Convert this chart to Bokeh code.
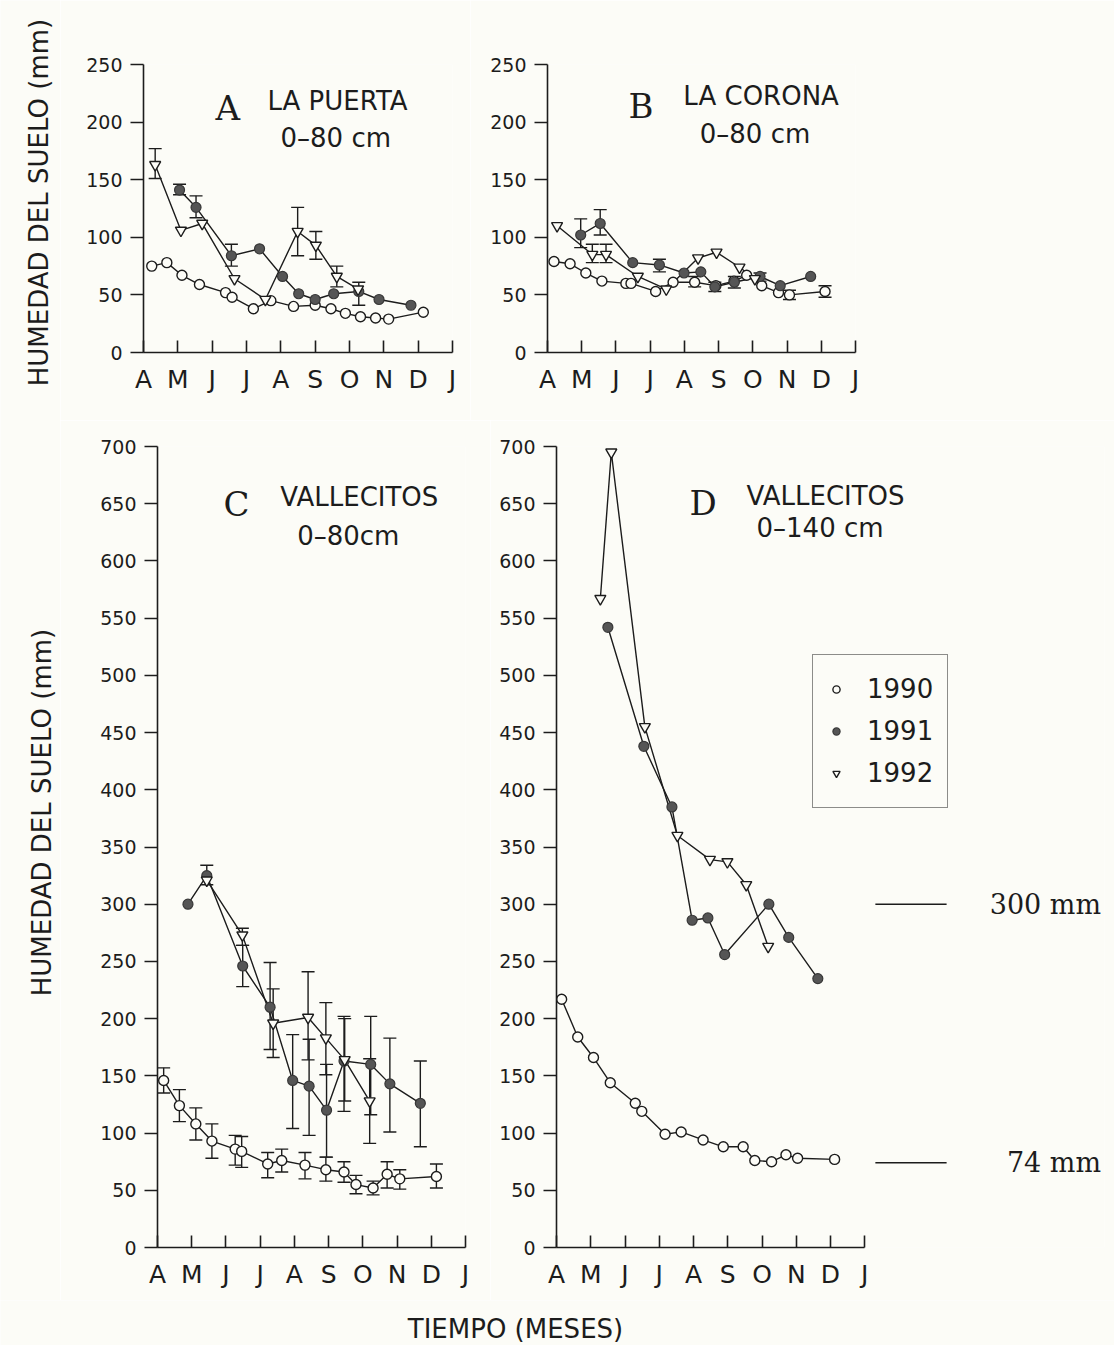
import math
from bokeh.plotting import figure
from bokeh.models import (Range1d, FixedTicker, Whisker, TeeHead, ColumnDataSource,
                          Legend, LegendItem, Label)
from bokeh.layouts import column, row
from bokeh.embed import file_html
from bokeh.resources import INLINE

# ---------------- data ----------------
MONTHS = ["A", "M", "J", "J", "A", "S", "O", "N", "D", "J"]
YEARS = ["1990", "1991", "1992"]

# A  La Puerta 0-80 cm  (x = months after 1 April)
A_x_1990 = [0.24, 0.68, 1.12, 1.63, 2.39, 2.58, 3.20, 3.71, 4.37, 5.00, 5.46, 5.88, 6.32, 6.76, 7.14, 8.15]
A_y_1990 = [75, 78, 67, 59, 52, 48, 38, 45, 40, 41, 38, 34, 31, 30, 29, 35]
A_x_1991 = [1.05, 1.53, 2.56, 3.38, 4.05, 4.52, 5.00, 5.54, 6.27, 6.86, 7.79]
A_y_1991 = [141, 126, 84, 90, 66, 51, 46, 51, 53, 46, 41]
A_x_1992 = [0.34, 1.09, 1.71, 2.65, 3.55, 4.49, 5.02, 5.63, 6.25]
A_y_1992 = [163, 106, 112, 64, 46, 105, 93, 66, 55]
A_err_x_1991 = [1.05, 1.53, 2.56, 6.27]
A_err_lo_1991 = [137, 117, 75, 41]
A_err_hi_1991 = [146, 136, 94, 61]
A_err_x_1992 = [0.34, 4.49, 5.02, 5.63]
A_err_lo_1992 = [151, 84, 81, 57]
A_err_hi_1992 = [177, 126, 105, 75]

# B  La Corona 0-80 cm
B_x_1990 = [0.19, 0.66, 1.12, 1.59, 2.29, 2.44, 3.16, 3.67, 4.30, 4.92, 5.45, 5.82, 6.26, 6.75, 7.07, 8.11]
B_y_1990 = [79, 77, 69, 62, 60, 60, 53, 61, 61, 58, 62, 67, 58, 52, 50, 53]
B_x_1991 = [0.97, 1.54, 2.49, 3.27, 3.99, 4.48, 4.89, 5.46, 6.21, 6.80, 7.69]
B_y_1991 = [102, 112, 78, 76, 69, 70, 57, 61, 66, 58, 66]
B_x_1992 = [0.28, 1.31, 1.71, 2.64, 3.47, 4.40, 4.94, 5.61, 6.06]
B_y_1992 = [110, 85, 85, 66, 55, 82, 87, 74, 64]
B_err_x_1990 = [4.30, 7.07, 8.11]
B_err_lo_1990 = [57, 46, 48]
B_err_hi_1990 = [66, 54, 58]
B_err_x_1991 = [0.97, 1.54, 3.27, 4.89, 5.46, 6.21]
B_err_lo_1991 = [91, 102, 70, 53, 56, 62]
B_err_hi_1991 = [116, 124, 81, 61, 66, 69]
B_err_x_1992 = [1.31, 1.71]
B_err_lo_1992 = [78, 78]
B_err_hi_1992 = [94, 94]

# C  Vallecitos 0-80 cm
C_x_1990 = [0.18, 0.64, 1.12, 1.59, 2.27, 2.46, 3.22, 3.63, 4.31, 4.92, 5.45, 5.80, 6.30, 6.71, 7.08, 8.15]
C_y_1990 = [146, 124, 108, 93, 86, 84, 73, 76, 72, 68, 66, 55, 52, 64, 60, 62]
C_lo_1990 = [135, 110, 94, 78, 72, 70, 61, 66, 60, 58, 57, 47, 46, 52, 51, 52]
C_hi_1990 = [157, 138, 122, 108, 98, 97, 83, 86, 83, 79, 75, 63, 58, 75, 68, 73]
C_x_1991 = [0.89, 1.44, 2.49, 3.29, 3.95, 4.43, 4.94, 5.45, 6.23, 6.79, 7.68]
C_y_1991 = [300, 325, 246, 210, 146, 141, 120, 163, 160, 143, 126]
C_err_x_1991 = [1.44, 2.49, 3.29, 3.95, 4.43, 4.94, 5.45, 6.23, 6.79, 7.68]
C_err_lo_1991 = [317, 228, 173, 104, 98, 79, 119, 116, 101, 88]
C_err_hi_1991 = [334, 264, 249, 186, 182, 160, 202, 202, 183, 163]
C_x_1992 = [1.44, 2.48, 3.38, 4.40, 4.92, 5.47, 6.20]
C_y_1992 = [321, 273, 196, 201, 183, 164, 128]
C_err_x_1992 = [2.48, 3.38, 4.40, 4.92, 5.47, 6.20]
C_err_lo_1992 = [264, 166, 164, 151, 128, 91]
C_err_hi_1992 = [279, 226, 241, 214, 200, 165]

# D  Vallecitos 0-140 cm
D_x_1990 = [0.15, 0.62, 1.08, 1.57, 2.30, 2.49, 3.17, 3.64, 4.28, 4.87, 5.45, 5.79, 6.28, 6.70, 7.04, 8.12]
D_y_1990 = [217, 184, 166, 144, 126, 119, 99, 101, 94, 88, 88, 76, 75, 81, 78, 77]
D_x_1991 = [1.50, 2.55, 3.37, 3.96, 4.42, 4.91, 6.20, 6.78, 7.63]
D_y_1991 = [542, 438, 385, 286, 288, 256, 300, 271, 235]
D_x_1992 = [1.28, 1.60, 2.58, 3.53, 4.48, 4.99, 5.54, 6.18]
D_y_1992 = [567, 695, 455, 360, 339, 337, 317, 263]
D_ref_levels = [300, 74]
D_ref_labels = ["300 mm", "74 mm"]

Y_LABEL = "HUMEDAD DEL SUELO (mm)"
X_LABEL = "TIEMPO (MESES)"

# ---------------- style ----------------
BG = "#fcfcf7"
INK = "#1c1c1c"
DARK = "#555555"
SANS = "DejaVu Sans"
SERIF = "DejaVu Serif"


def make_fig(width, height, left, right, top, bottom, ymax, xmax=9.0):
    p = figure(width=width, height=height, x_range=Range1d(0, xmax), y_range=Range1d(0, ymax),
               output_backend="svg", toolbar_location=None,
               min_border_left=left, min_border_right=right,
               min_border_top=top, min_border_bottom=bottom,
               background_fill_color=BG, border_fill_color=BG, outline_line_color=None)
    p.grid.visible = False
    xa = p.xaxis[0]
    xa.ticker = FixedTicker(ticks=list(range(10)))
    xa.major_label_overrides = {i: m for i, m in enumerate(MONTHS)}
    xa.major_tick_in = 12
    xa.major_tick_out = 0
    xa.minor_tick_line_color = None
    xa.major_label_text_font = SANS
    xa.major_label_text_font_size = "25px"
    xa.major_label_text_color = INK
    xa.major_label_standoff = 12
    xa.axis_line_width = 1.6
    xa.axis_line_color = INK
    xa.major_tick_line_width = 1.6
    xa.major_tick_line_color = INK
    xa.bounds = (0, 9)
    ya = p.yaxis[0]
    ya.ticker = FixedTicker(ticks=list(range(0, ymax + 1, 50)))
    ya.major_tick_in = 0
    ya.major_tick_out = 13
    ya.minor_tick_line_color = None
    ya.major_label_text_font = SANS
    ya.major_label_text_font_size = "19px"
    ya.major_label_text_color = INK
    ya.major_label_standoff = 8
    ya.axis_line_width = 1.6
    ya.axis_line_color = INK
    ya.major_tick_line_width = 1.6
    ya.major_tick_line_color = INK
    return p


def blank_fig(width, height):
    p = figure(width=width, height=height, x_range=Range1d(0, width), y_range=Range1d(0, height),
               output_backend="svg", toolbar_location=None, x_axis_type=None, y_axis_type=None,
               min_border_left=0, min_border_right=0, min_border_top=0, min_border_bottom=0,
               background_fill_color=BG, border_fill_color=BG, outline_line_color=None)
    p.grid.visible = False
    return p


def add_series(p, xs, ys):
    p.line(xs, ys, line_color=INK, line_width=1.4)


def add_markers(p, xs, ys, kind):
    if kind == "1990":
        return p.scatter(xs, ys, marker="circle", size=10, fill_color=BG, line_color=INK, line_width=1.4)
    if kind == "1991":
        return p.scatter(xs, ys, marker="circle", size=10, fill_color=DARK, line_color="#383838", line_width=1.2)
    return p.scatter(xs, ys, marker="inverted_triangle", size=11, fill_color=BG, line_color=INK, line_width=1.4)


def add_err(p, xs, lo, hi):
    src = ColumnDataSource(dict(x=xs, lo=lo, hi=hi))
    w = Whisker(source=src, base="x", lower="lo", upper="hi", dimension="height",
                line_color=INK, line_width=1.4,
                lower_head=TeeHead(size=13, line_color=INK, line_width=1.4),
                upper_head=TeeHead(size=13, line_color=INK, line_width=1.4))
    p.add_layout(w)


def add_text(p, x, y, text, font, size, align="left", angle=0.0, baseline="alphabetic"):
    p.add_layout(Label(x=x, y=y, text=text, text_font=font, text_font_size=size,
                       text_color=INK, text_baseline=baseline, text_align=align, angle=angle))


def panel(p, series, errs):
    for xs, ys, k in series:
        add_series(p, xs, ys)
    for xs, lo, hi in errs:
        add_err(p, xs, lo, hi)
    rs = {}
    for xs, ys, k in series:
        rs[k] = add_markers(p, xs, ys, k)
    return rs


# ---------------- y-label strip (both rows) ----------------
strip = blank_fig(60, 1300)
add_text(strip, 38, 1098, Y_LABEL, SANS, "26px", align="center", angle=math.pi / 2, baseline="middle")
add_text(strip, 41, 488, Y_LABEL, SANS, "26px", align="center", angle=math.pi / 2, baseline="middle")

# ---------------- panel A ----------------
pA = make_fig(410, 420, 83, 18, 64, 68, 250)
panel(pA, [(A_x_1990, A_y_1990, "1990"), (A_x_1991, A_y_1991, "1991"), (A_x_1992, A_y_1992, "1992")],
      [(A_err_x_1991, A_err_lo_1991, A_err_hi_1991), (A_err_x_1992, A_err_lo_1992, A_err_hi_1992)])
add_text(pA, 2.10, 212.5, "A", SERIF, "34px")
add_text(pA, 3.61, 218, "LA PUERTA", SANS, "26px")
add_text(pA, 3.99, 186, "0–80 cm", SANS, "26px")

# ---------------- panel B ----------------
pB = make_fig(644, 420, 77, 259, 64, 68, 250)
panel(pB, [(B_x_1990, B_y_1990, "1990"), (B_x_1991, B_y_1991, "1991"), (B_x_1992, B_y_1992, "1992")],
      [(B_err_x_1990, B_err_lo_1990, B_err_hi_1990), (B_err_x_1991, B_err_lo_1991, B_err_hi_1991),
       (B_err_x_1992, B_err_lo_1992, B_err_hi_1992)])
add_text(pB, 2.37, 214, "B", SERIF, "34px")
add_text(pB, 3.97, 223, "LA CORONA", SANS, "26px")
add_text(pB, 4.45, 189.5, "0–80 cm", SANS, "26px")

# ---------------- panel C ----------------
pC = make_fig(430, 880, 97, 25, 26, 53, 700)
panel(pC, [(C_x_1990, C_y_1990, "1990"), (C_x_1991, C_y_1991, "1991"), (C_x_1992, C_y_1992, "1992")],
      [(C_x_1990, C_lo_1990, C_hi_1990), (C_err_x_1991, C_err_lo_1991, C_err_hi_1991),
       (C_err_x_1992, C_err_lo_1992, C_err_hi_1992)])
add_text(pC, 1.93, 650, "C", SERIF, "34px")
add_text(pC, 3.59, 656, "VALLECITOS", SANS, "26px")
add_text(pC, 4.08, 622, "0–80cm", SANS, "26px")

# ---------------- panel D ----------------
pD = make_fig(624, 880, 66, 10, 26, 53, 700, xmax=16.0)
rD = panel(pD, [(D_x_1990, D_y_1990, "1990"), (D_x_1991, D_y_1991, "1991"), (D_x_1992, D_y_1992, "1992")], [])
add_text(pD, 3.88, 651, "D", SERIF, "34px")
add_text(pD, 5.55, 657, "VALLECITOS", SANS, "26px")
add_text(pD, 5.84, 629, "0–140 cm", SANS, "26px")
for lev, lab in zip(D_ref_levels, D_ref_labels):
    pD.line([9.31, 11.39], [lev, lev], line_color=INK, line_width=1.6)
    add_text(pD, 15.9, lev, lab, SERIF, "27px", align="right")

legend = Legend(items=[LegendItem(label=y, renderers=[rD[y]]) for y in YEARS],
                location=(256, 439), orientation="vertical",
                label_text_font=SANS, label_text_font_size="26px", label_text_color=INK,
                border_line_color=INK, border_line_width=1.6, background_fill_color=BG,
                background_fill_alpha=1.0, padding=14, spacing=2, label_height=40,
                glyph_width=18, glyph_height=18, label_standoff=22, margin=0)
pD.add_layout(legend)

# ---------------- footer (x label) ----------------
pF = blank_fig(1114, 45)
add_text(pF, 515, 17, X_LABEL, SANS, "26px", align="center", baseline="middle")

layout = column(row(strip, column(row(pA, pB), row(pC, pD))), pF)
open("out.html", "w").write(file_html(layout, INLINE))
